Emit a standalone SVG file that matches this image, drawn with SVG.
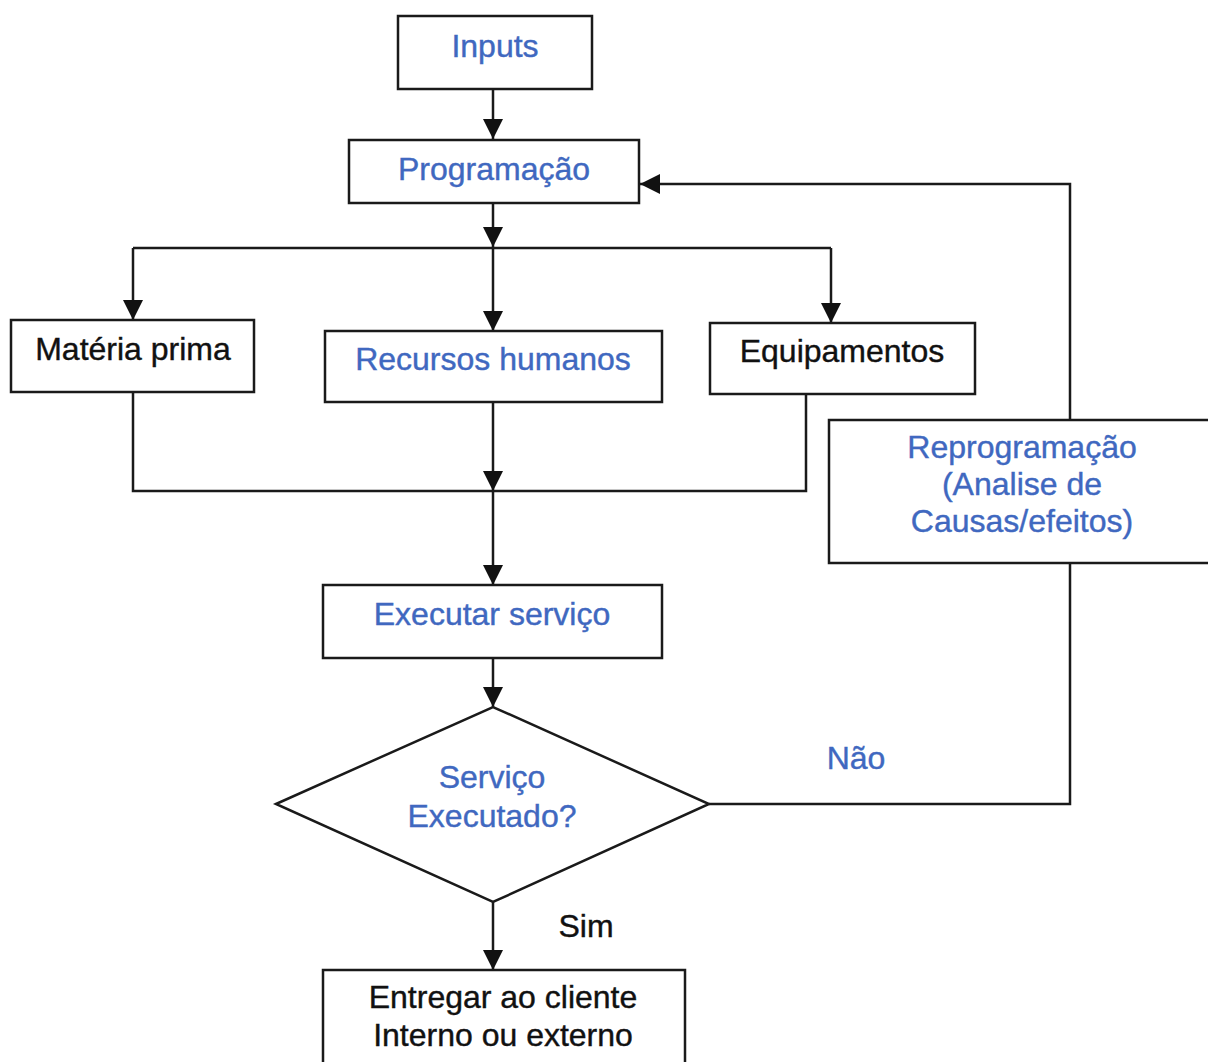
<svg xmlns="http://www.w3.org/2000/svg" width="1208" height="1062" viewBox="0 0 1208 1062">
<style>
.box{fill:#fff;stroke:#1a1a1a;stroke-width:2.5}
.ln{fill:none;stroke:#1a1a1a;stroke-width:2.5}
.t{font-family:"Liberation Sans",Arial,sans-serif;font-size:32px;text-anchor:middle;stroke-width:0.4}
.b{fill:#4068c0;stroke:#4068c0}
.k{fill:#111;stroke:#111}
</style>
<defs>
<marker id="ah" viewBox="0 0 20 20" refX="20" refY="10" markerWidth="20" markerHeight="20" markerUnits="userSpaceOnUse" orient="auto">
<path d="M0,0 L20,10 L0,20 z" fill="#111"/>
</marker>
</defs>
<rect width="1208" height="1062" fill="#fff"/>
<g id="connectors">
<path class="ln" d="M493,89 V139" marker-end="url(#ah)"/>
<path class="ln" d="M493,203 V247" marker-end="url(#ah)"/>
<path class="ln" d="M133,248 H831"/>
<path class="ln" d="M133,248 V320" marker-end="url(#ah)"/>
<path class="ln" d="M493,248 V331" marker-end="url(#ah)"/>
<path class="ln" d="M831,248 V323" marker-end="url(#ah)"/>
<path class="ln" d="M133,392 V491 H806 V394"/>
<path class="ln" d="M493,402 V491" marker-end="url(#ah)"/>
<path class="ln" d="M493,491 V585" marker-end="url(#ah)"/>
<path class="ln" d="M493,658 V707" marker-end="url(#ah)"/>
<path class="ln" d="M493,902 V970" marker-end="url(#ah)"/>
<path class="ln" d="M709,804 H1070 V563"/>
<path class="ln" d="M1070,420 V184 H640" marker-end="url(#ah)"/>
<text class="t b" x="856" y="769">Não</text>
<text class="t k" x="586" y="937">Sim</text>
</g>
<g id="inputs">
<rect class="box" x="398" y="16" width="194" height="73"/>
<text class="t b" x="495" y="57">Inputs</text>
</g>
<g id="programacao">
<rect class="box" x="349" y="140" width="290" height="63"/>
<text class="t b" x="494" y="180">Programação</text>
</g>
<g id="materia">
<rect class="box" x="11" y="320" width="243" height="72"/>
<text class="t k" x="133" y="360">Matéria prima</text>
</g>
<g id="recursos">
<rect class="box" x="325" y="331" width="337" height="71"/>
<text class="t b" x="493" y="370">Recursos humanos</text>
</g>
<g id="equipamentos">
<rect class="box" x="710" y="323" width="265" height="71"/>
<text class="t k" x="842" y="362">Equipamentos</text>
</g>
<g id="reprogramacao">
<rect class="box" x="829" y="420" width="400" height="143"/>
<text class="t b" x="1022" y="458">Reprogramação</text>
<text class="t b" x="1022" y="495">(Analise de</text>
<text class="t b" x="1022" y="532">Causas/efeitos)</text>
</g>
<g id="executar">
<rect class="box" x="323" y="585" width="339" height="73"/>
<text class="t b" x="492" y="625">Executar serviço</text>
</g>
<g id="decisao">
<polygon class="box" points="276,804 493,707 709,804 493,902"/>
<text class="t b" x="492" y="788">Serviço</text>
<text class="t b" x="492" y="827">Executado?</text>
</g>
<g id="entregar">
<rect class="box" x="323" y="970" width="362" height="130"/>
<text class="t k" x="503" y="1008">Entregar ao cliente</text>
<text class="t k" x="503" y="1046">Interno ou externo</text>
</g>
</svg>
